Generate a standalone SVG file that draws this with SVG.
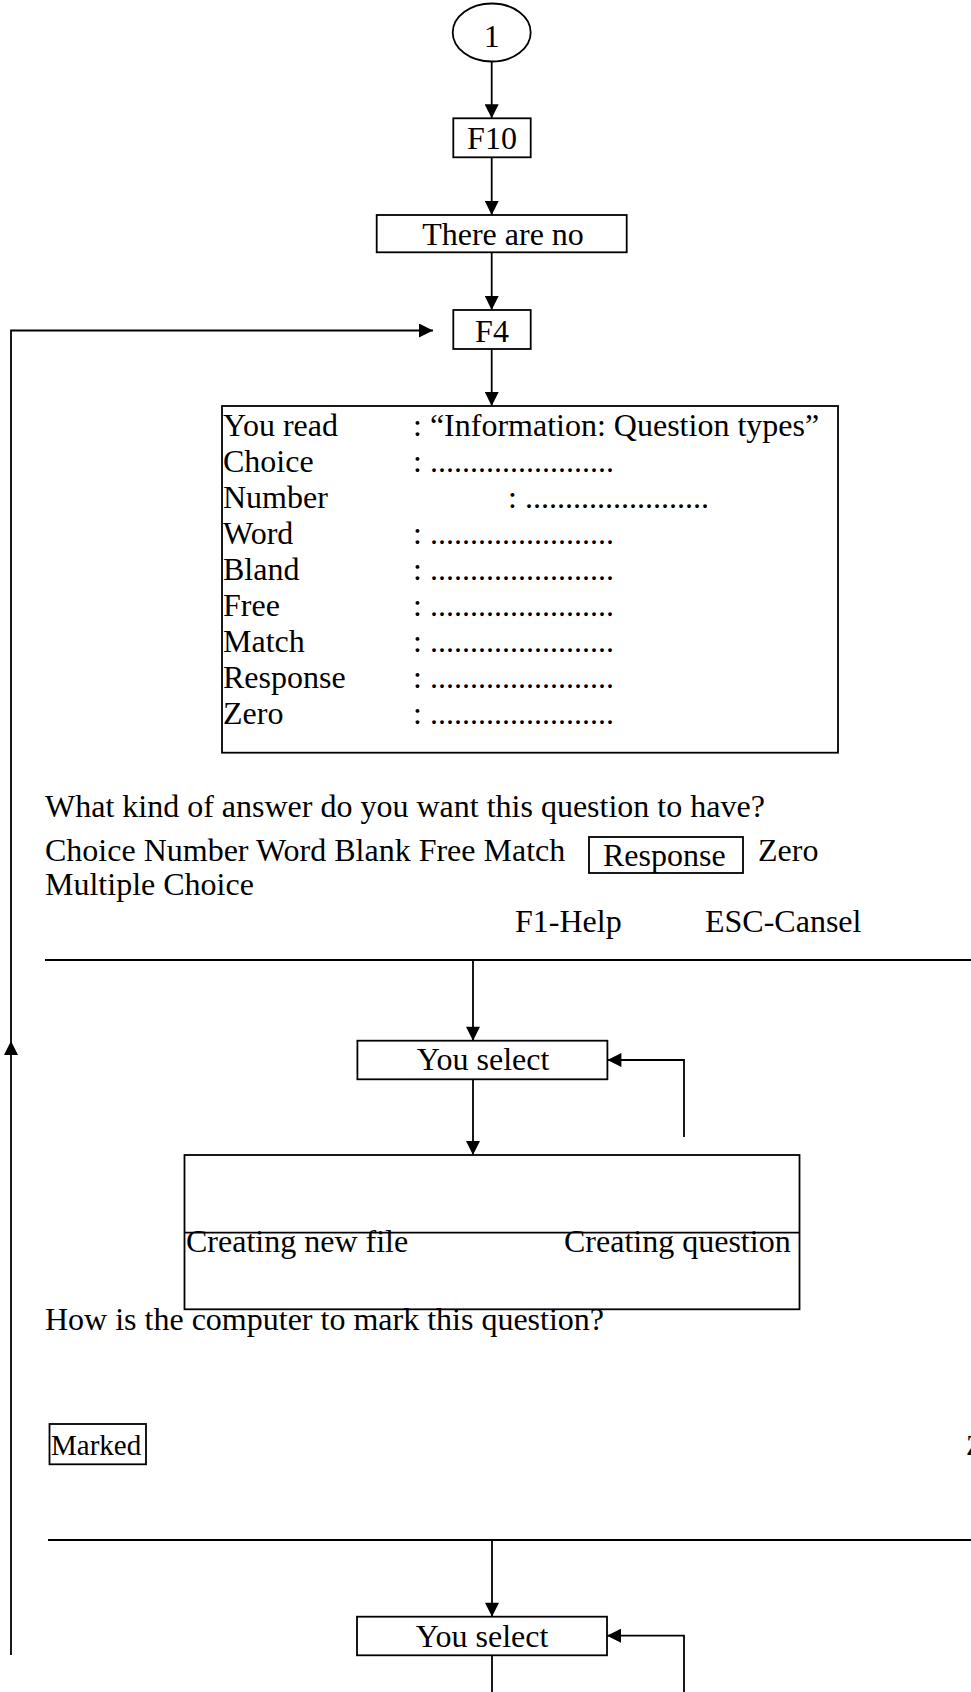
<svg xmlns="http://www.w3.org/2000/svg" width="971" height="1692" viewBox="0 0 971 1692">
  <style>
    text { font-family: "Liberation Serif", "Times New Roman", serif; font-size: 32px; fill: #000; }
    .box { fill: #fff; stroke: #000; stroke-width: 1.8; }
    .ln { fill: none; stroke: #000; stroke-width: 1.8; }
    .mid { text-anchor: middle; }
    .sm { font-size: 29px; }
  </style>
  <defs>
    <marker id="arr" viewBox="0 0 10 10" refX="10" refY="5" markerUnits="userSpaceOnUse" markerWidth="16" markerHeight="14" orient="auto">
      <path d="M0,0 L10,5 L0,10 z" fill="#000"/>
    </marker>
  </defs>
  <rect width="971" height="1692" fill="#fff"/>

  <g id="connectors">
    <line class="ln" x1="491.7" y1="61.7" x2="491.7" y2="118.3" marker-end="url(#arr)"/>
    <line class="ln" x1="491.7" y1="157.3" x2="491.7" y2="215" marker-end="url(#arr)"/>
    <line class="ln" x1="491.7" y1="252.3" x2="491.7" y2="310" marker-end="url(#arr)"/>
    <line class="ln" x1="491.7" y1="349" x2="491.7" y2="406" marker-end="url(#arr)"/>
    <path class="ln" d="M11,1655 L11,1041" marker-end="url(#arr)"/>
    <path class="ln" d="M11,1041 L11,330.5 L433,330.5" marker-end="url(#arr)"/>
    <line class="ln" x1="45" y1="960" x2="971" y2="960"/>
    <line class="ln" x1="473" y1="960" x2="473" y2="1040.7" marker-end="url(#arr)"/>
    <line class="ln" x1="473" y1="1079.3" x2="473" y2="1155" marker-end="url(#arr)"/>
    <path class="ln" d="M684,1137 L684,1060 L607.4,1060" marker-end="url(#arr)"/>
    <line class="ln" x1="48" y1="1540" x2="971" y2="1540"/>
    <line class="ln" x1="492" y1="1540" x2="492" y2="1616.7" marker-end="url(#arr)"/>
    <line class="ln" x1="492" y1="1655.3" x2="492" y2="1692"/>
    <path class="ln" d="M684,1692 L684,1635.7 L607,1635.7" marker-end="url(#arr)"/>
  </g>

  <g id="node-1">
    <ellipse class="box" cx="491.7" cy="32.5" rx="39" ry="29"/>
    <text class="mid" x="491.7" y="46.7">1</text>
  </g>
  <g id="node-f10">
    <rect class="box" x="453.3" y="118.3" width="77.4" height="39"/>
    <text class="mid" x="492" y="149">F10</text>
  </g>
  <g id="node-there-are-no">
    <rect class="box" x="376.7" y="215" width="250" height="37.3"/>
    <text class="mid" x="503" y="245">There are no</text>
  </g>
  <g id="node-f4">
    <rect class="box" x="453.3" y="310" width="77.4" height="39"/>
    <text class="mid" x="492" y="341.7">F4</text>
  </g>

  <g id="node-info">
    <rect class="box" x="222" y="406" width="616" height="346.7"/>
    <text x="223" y="436">You read</text>
    <text x="413" y="436">: “Information: Question types”</text>
    <text x="223" y="472">Choice</text>
    <text x="413" y="472">: .......................</text>
    <text x="223" y="508">Number</text>
    <text x="508" y="508">: .......................</text>
    <text x="223" y="544">Word</text>
    <text x="413" y="544">: .......................</text>
    <text x="223" y="580">Bland</text>
    <text x="413" y="580">: .......................</text>
    <text x="223" y="616">Free</text>
    <text x="413" y="616">: .......................</text>
    <text x="223" y="652">Match</text>
    <text x="413" y="652">: .......................</text>
    <text x="223" y="688">Response</text>
    <text x="413" y="688">: .......................</text>
    <text x="223" y="724">Zero</text>
    <text x="413" y="724">: .......................</text>
  </g>

  <g id="answer-prompt">
    <text x="45" y="817">What kind of answer do you want this question to have?</text>
    <text x="45" y="861">Choice Number Word Blank Free Match</text>
    <rect class="box" x="589" y="837" width="154" height="36"/>
    <text x="603" y="866">Response</text>
    <text x="758" y="861">Zero</text>
    <text x="45" y="895">Multiple Choice</text>
    <text x="515" y="932">F1-Help</text>
    <text x="705" y="932">ESC-Cansel</text>
  </g>

  <g id="node-select-1">
    <rect class="box" x="357.4" y="1040.7" width="250" height="38.6"/>
    <text class="mid" x="483" y="1070">You select</text>
  </g>

  <g id="node-creating">
    <rect class="box" x="184.5" y="1155" width="615" height="154.3"/>
    <line class="ln" x1="184.5" y1="1232.7" x2="799.5" y2="1232.7"/>
    <text x="186" y="1252">Creating new file</text>
    <text x="564" y="1252">Creating question</text>
  </g>

  <g id="mark-prompt">
    <text x="45" y="1330">How is the computer to mark this question?</text>
  </g>

  <g id="node-marked">
    <rect class="box" x="49.5" y="1424" width="96.5" height="40.3"/>
    <text class="sm" x="51" y="1455">Marked</text>
    <text class="sm" x="966" y="1455">Z</text>
  </g>

  <g id="node-select-2">
    <rect class="box" x="357" y="1616.7" width="250" height="38.6"/>
    <text class="mid" x="482" y="1646.7">You select</text>
  </g>
</svg>
